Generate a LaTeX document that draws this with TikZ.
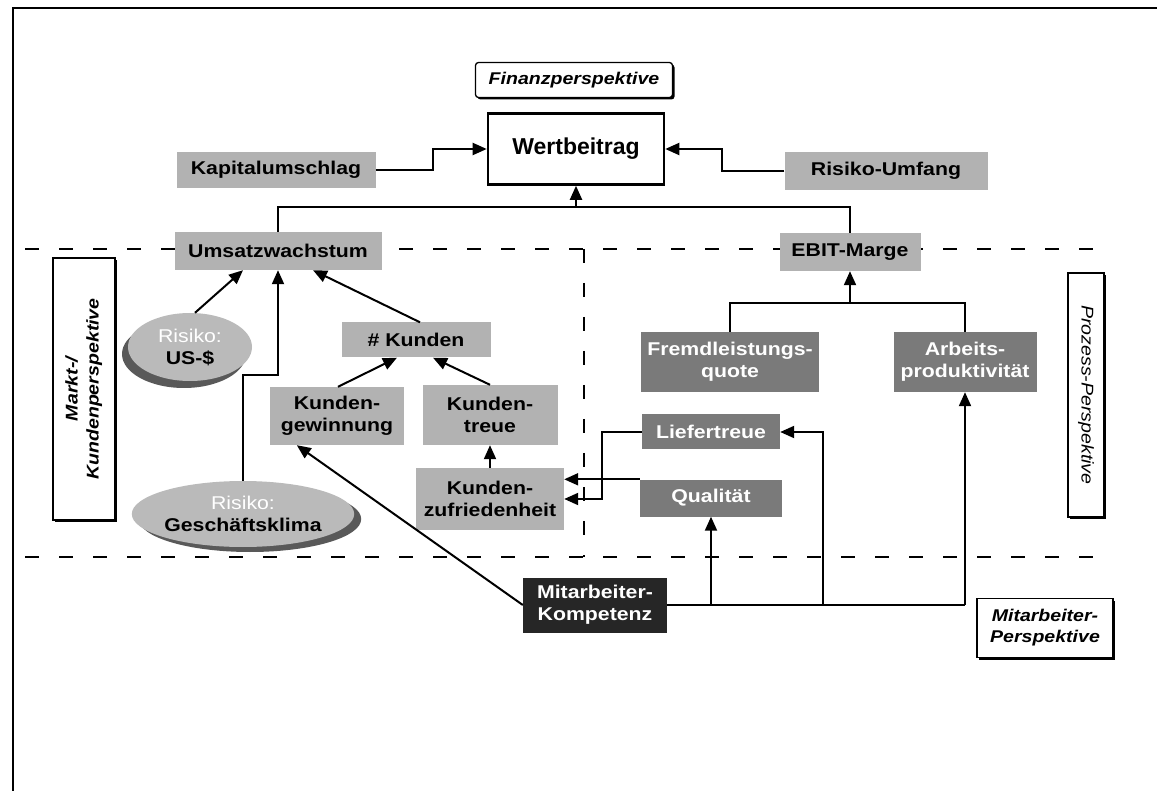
\documentclass[tikz,border=0pt]{standalone}
\usepackage{fontspec}
\setmainfont{Liberation Sans}[FakeStretch=1.15]
\newfontfamily\wfont{Liberation Sans}
\usepackage{graphicx}
\usetikzlibrary{arrows.meta,shapes.geometric,shadows,calc}
\begin{document}
\begin{tikzpicture}[x=1pt,y=-1pt,
  lab/.style={font=\fontsize{18.5}{22}\selectfont\bfseries, align=center, inner sep=0pt},
  gbox/.style={lab, rectangle, fill=black!30},
  dbox/.style={lab, rectangle, fill=black!52, text=white},
  ell/.style={lab, ellipse, fill=black!27},
  pbox/.style={rectangle, draw, line width=1.3pt, fill=white, font=\fontsize{17}{21}\selectfont\bfseries\itshape, align=center, inner sep=0pt, drop shadow={shadow xshift=2pt, shadow yshift=-2pt, fill=black, opacity=1}},
  arr/.style={line width=2pt, -{Triangle[length=14pt,width=12pt]}},
  con/.style={line width=2pt},
  dsh/.style={line width=2.6pt, dash pattern=on 14pt off 20pt},
]
\useasboundingbox (0,0) rectangle (1157,791);
% outer frame
\draw[line width=1.8pt] (13,791) -- (13,8) -- (1157,8);
% perspective separators
\draw[dsh] (25,249) -- (1112,249);
\draw[dsh] (25,557) -- (1110,557);
\draw[dsh] (584,249) -- (584,557);

% finance
\node[pbox, rounded corners=3pt, minimum width=197, minimum height=35] (fin) at (574,80) {Finanzperspektive};
\node[draw, line width=2.6pt, fill=white, minimum width=176, minimum height=71, inner sep=0pt, font=\wfont\fontsize{23}{27}\selectfont\bfseries] (wert) at (576,149) {Wertbeitrag};
\node[gbox, minimum width=199, minimum height=36] (kap) at (276,170) {Kapitalumschlag};
\node[gbox, minimum width=203, minimum height=38] (risk) at (886,171) {Risiko-Umfang};
\node[gbox, minimum width=207, minimum height=38] (ums) at (278,251) {Umsatzwachstum};
\node[gbox, minimum width=141, minimum height=38] (ebit) at (850,252) {EBIT-Marge};

% market / customer
\node[ell, minimum width=124, minimum height=68, drop shadow={shadow xshift=-6pt, shadow yshift=-7pt, fill=black!65, opacity=1}] (usd) at (190,347) {{\mdseries\color{white}Risiko:}\\US-\$};
\node[ell, minimum width=200, minimum height=66, drop shadow={shadow xshift=7pt, shadow yshift=-5pt, fill=black!65, opacity=1}] (klima) at (243,514) {{\mdseries\color{white}Risiko:}\\Geschäftsklima};
\node[gbox, minimum width=149, minimum height=35] (kunden) at (416,340) {\# Kunden};
\node[gbox, minimum width=134, minimum height=58] (gew) at (337,416) {Kunden-\\gewinnung};
\node[gbox, minimum width=135, minimum height=60] (treue) at (490,415) {Kunden-\\treue};
\node[gbox, minimum width=148, minimum height=62] (zuf) at (490,499) {Kunden-\\zufriedenheit};

% process
\node[dbox, minimum width=178, minimum height=60] (fremd) at (730,362) {Fremdleistungs-\\quote};
\node[dbox, minimum width=143, minimum height=60] (arb) at (965,362) {Arbeits-\\produktivität};
\node[dbox, minimum width=138, minimum height=35] (lief) at (711,432) {Liefertreue};
\node[dbox, minimum width=142, minimum height=37] (qual) at (711,498) {Qualität};

% employees
\node[lab, fill=black!85, text=white, minimum width=144, minimum height=55] (mit) at (595,605) {Mitarbeiter-\\Kompetenz};

% perspective labels
\node[pbox, minimum width=136, minimum height=59] (mitp) at (1045,628) {Mitarbeiter-\\Perspektive};
\node[pbox, minimum width=62, minimum height=262] (markt) at (84,389) {\rotatebox{90}{\begin{tabular}{@{}c@{}}Markt-/\\Kundenperspektive\end{tabular}}};
\node[pbox, font=\fontsize{17}{21}\selectfont\itshape, minimum width=36, minimum height=244] (proz) at (1086,395) {\rotatebox{-90}{Prozess-Perspektive}};

% connectors: finance
\coordinate (j1) at (576,207);
\draw[con] (ums.north) |- (j1) -| (ebit.north);
\draw[arr] (j1) -- (wert.south);
\draw[arr] (kap.east) -- ++(57,0) |- (wert.west);
\draw[arr] (risk.west) -- ++(-62,0) |- (wert.east);
% process tree
\coordinate (j2) at (850,303);
\draw[con] (fremd.north) |- (j2) -| (arb.north);
\draw[arr] (j2) -- (ebit.south);
% market tree
\draw[arr] ($(usd.north)+(5,0)$) -- ($(ums.south)+(-35,0)$);
\draw[arr] (klima.north) -- ++(0,-106) -| (ums.south);
\draw[arr] ($(kunden.north)+(4,0)$) -- ($(ums.south)+(35,0)$);
\draw[arr] ($(gew.north)+(1,0)$) -- ($(kunden.south)+(-19,0)$);
\draw[arr] (treue.north) -- ($(kunden.south)+(17,0)$);
\draw[arr] (zuf.north) -- (treue.south);
\draw[arr] (qual.north west) -- (qual.north west -| zuf.east);
\draw[arr] (lief.west) -- ++(-40,0) |- (zuf.east);
% employees
\draw[arr] (mit.west) -- ($(gew.south west)+(27,0)$);
\draw[con] (mit.east) -- (mit.east -| arb.south);
\draw[arr] (mit.east -| qual.south) -- (qual.south);
\coordinate (lr) at (823,605);
\draw[arr] (lr) |- (lief.east);
\draw[arr] (mit.east -| arb.south) -- (arb.south);
\end{tikzpicture}
\end{document}
